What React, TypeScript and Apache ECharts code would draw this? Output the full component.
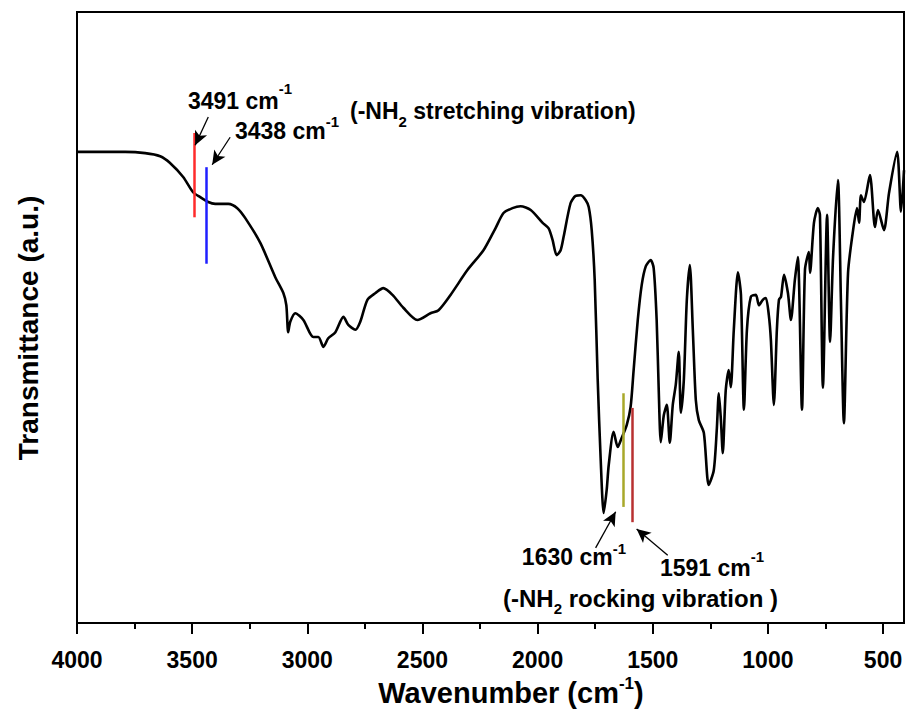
import React, { useEffect, useRef } from "react";
import * as echarts from "echarts";

// Wavenumber (cm-1) and transmittance (a.u., 0-100 scale)
const wavenumber = [
  4000, 3900, 3791, 3704, 3639, 3596, 3539, 3496, 3465, 3430, 3400, 3343, 3304, 3270, 3204, 3139,
  3104, 3091, 3083, 3074, 3052, 3017, 2974, 2952, 2930, 2909, 2878, 2843, 2822, 2791, 2770, 2739,
  2704, 2670, 2630, 2583, 2522, 2465, 2430, 2378, 2304, 2235, 2183, 2148, 2109, 2074, 2030, 1978,
  1952, 1935, 1917, 1900, 1887, 1857, 1835, 1813, 1791, 1778, 1765, 1752, 1739, 1726, 1713, 1700,
  1691, 1670, 1652, 1635, 1613, 1596, 1583, 1565, 1548, 1530, 1509, 1496, 1483, 1474, 1465, 1452,
  1439, 1426, 1413, 1400, 1387, 1378, 1365, 1352, 1339, 1326, 1313, 1300, 1278, 1257, 1235, 1222,
  1213, 1204, 1196, 1183, 1170, 1161, 1148, 1130, 1117, 1104, 1091, 1074, 1052, 1039, 1022, 1009,
  996, 987, 974, 961, 952, 943, 930, 913, 900, 883, 870, 852, 839, 822, 817, 800,
  783, 774, 761, 743, 730, 717, 696, 683, 670, 652, 630, 613, 604, 596, 583, 557,
  535, 522, 496, 474, 439, 422, 409,
];
const transmittance = [
  77.1, 77.1, 77.1, 76.9, 76.4, 75.3, 73.0, 70.5, 69.7, 68.9, 68.6, 68.6, 67.9, 66.3, 62.2, 56.6,
  54.0, 52.0, 47.6, 49.3, 50.7, 49.6, 46.8, 46.8, 45.2, 46.6, 47.6, 50.1, 48.8, 48.0, 49.3, 52.9,
  54.0, 54.8, 53.7, 51.6, 49.6, 50.7, 51.2, 53.7, 57.8, 61.0, 64.6, 67.1, 67.9, 68.2, 67.6, 65.5,
  64.6, 62.7, 60.2, 61.0, 63.2, 68.7, 69.9, 70.0, 69.2, 68.1, 64.3, 56.1, 39.8, 26.7, 18.0, 21.8,
  25.9, 31.3, 28.8, 30.3, 32.4, 35.4, 41.4, 49.6, 55.3, 58.4, 59.4, 58.1, 49.6, 38.1, 29.6, 34.0,
  35.7, 29.5, 35.7, 39.0, 44.4, 34.4, 39.8, 52.9, 58.6, 48.0, 36.5, 33.2, 31.1, 22.6, 25.0, 31.6,
  37.6, 33.2, 27.8, 38.1, 41.4, 38.6, 48.0, 57.4, 53.7, 34.9, 48.0, 53.4, 53.7, 52.0, 52.9, 53.2,
  50.4, 46.3, 35.7, 48.0, 52.9, 53.4, 57.0, 54.0, 49.6, 56.1, 59.9, 34.9, 57.8, 60.7, 57.3, 65.5,
  67.9, 66.8, 38.5, 66.8, 46.0, 59.9, 72.5, 52.9, 32.7, 57.3, 64.3, 67.9, 65.5, 70.0, 68.9, 73.3,
  64.8, 67.6, 64.3, 70.4, 77.1, 67.3, 74.1,
];

const majorTicks = [4000, 3500, 3000, 2500, 2000, 1500, 1000, 500];
const minorTicks = [3750, 3250, 2750, 2250, 1750, 1250, 750];
const markedPeaks = [3491, 3438, 1630, 1591];

const FONT = '"Liberation Sans", Arial, Helvetica, sans-serif';

let measureCtx: CanvasRenderingContext2D | null = null;
function measure(text: string, size: number) {
  if (!measureCtx) measureCtx = document.createElement("canvas").getContext("2d");
  if (!measureCtx) return text.length * size * 0.55;
  measureCtx.font = `bold ${size}px ${FONT}`;
  return measureCtx.measureText(text).width;
}

type Part = { t: string; size: number; dy?: number };

// builds text pieces laid out left to right (super/subscripts shifted by dy)
function label(x: number, y: number, parts: Part[], align: "left" | "right" | "center" = "left") {
  const widths = parts.map((p) => measure(p.t, p.size));
  const total = widths.reduce((a, b) => a + b, 0);
  let cx = align === "left" ? x : align === "right" ? x - total : x - total / 2;
  return parts.map((p, i) => {
    const el = {
      type: "text",
      x: cx,
      y: y + (p.dy || 0),
      z: 100,
      style: {
        text: p.t,
        font: `bold ${p.size}px ${FONT}`,
        fill: "#000",
        align: "left",
        verticalAlign: "middle",
        textAlign: "left",
        textVerticalAlign: "middle",
      },
    };
    cx += widths[i];
    return el;
  });
}

export default function App() {
  const ref = useRef<HTMLDivElement>(null);

  useEffect(() => {
    document.body.style.margin = "0";
    if (!ref.current) return;
    const chart = echarts.init(ref.current, undefined, { renderer: "svg" });

    const data = wavenumber.map((w, i) => [w, transmittance[i]]);
    const [p3491, p3438, p1630, p1591] = markedPeaks;

    const vline = (x: number, y0: number, y1: number, color: string) => [
      { coord: [x, y0], symbol: "none", lineStyle: { color, width: 2.5, type: "solid" } },
      { coord: [x, y1], symbol: "none" },
    ];
    const arrow = (x0: number, y0: number, x1: number, y1: number) => [
      { coord: [x0, y0], symbol: "none", lineStyle: { color: "#000", width: 1.3, type: "solid" } },
      { coord: [x1, y1], symbol: "arrow", symbolSize: [10, 14] },
    ];

    const graphics: any[] = [
      ...label(188, 101, [
        { t: "3491 cm", size: 23 },
        { t: "-1", size: 15, dy: -13 },
      ]),
      ...label(235, 131, [
        { t: "3438 cm", size: 23 },
        { t: "-1", size: 15, dy: -10 },
      ]),
      ...label(350, 111, [
        { t: "(-NH", size: 23 },
        { t: "2", size: 15, dy: 10 },
        { t: " stretching vibration)", size: 23 },
      ]),
      ...label(626, 557, [
        { t: "1630 cm", size: 23 },
        { t: "-1", size: 15, dy: -9 },
      ], "right"),
      ...label(660, 568, [
        { t: "1591 cm", size: 23 },
        { t: "-1", size: 15, dy: -12 },
      ]),
      ...label(503, 598, [
        { t: "(-NH", size: 24 },
        { t: "2", size: 15, dy: 10 },
        { t: " rocking vibration )", size: 24 },
      ]),
      ...label(511, 693, [
        { t: "Wavenumber (cm", size: 29 },
        { t: "-1", size: 17, dy: -10 },
        { t: ")", size: 29 },
      ], "center"),
      {
        type: "text",
        x: 28,
        y: 328,
        rotation: Math.PI / 2,
        z: 100,
        style: {
          text: "Transmittance (a.u.)",
          font: `bold 28px ${FONT}`,
          fill: "#000",
          align: "center",
          verticalAlign: "middle",
          textAlign: "center",
          textVerticalAlign: "middle",
        },
      },
    ];

    chart.setOption({
      animation: false,
      backgroundColor: "#fff",
      grid: {
        left: 77,
        right: 2,
        top: 12,
        bottom: 88,
        show: true,
        borderColor: "#000",
        borderWidth: 2,
        backgroundColor: "transparent",
      },
      xAxis: [
        {
          type: "value",
          min: 409,
          max: 4000,
          inverse: true,
          position: "bottom",
          axisLine: { show: true, onZero: false, lineStyle: { color: "#000", width: 2 } },
          axisTick: { show: true, customValues: majorTicks, length: 11, lineStyle: { color: "#000", width: 2 } },
          axisLabel: {
            customValues: majorTicks,
            formatter: (v: number) => String(v),
            fontSize: 23,
            fontWeight: "bold",
            fontFamily: FONT,
            color: "#000",
            margin: 25,
          },
          splitLine: { show: false },
        },
        {
          type: "value",
          min: 409,
          max: 4000,
          inverse: true,
          position: "bottom",
          axisLine: { show: false },
          axisTick: { show: true, customValues: minorTicks, length: 6, lineStyle: { color: "#000", width: 2 } },
          axisLabel: { show: false },
          splitLine: { show: false },
        },
      ],
      yAxis: {
        type: "value",
        min: 0,
        max: 100,
        axisLine: { show: false },
        axisTick: { show: false },
        axisLabel: { show: false },
        splitLine: { show: false },
      },
      series: [
        {
          type: "line",
          data,
          showSymbol: false,
          smooth: 0.25,
          lineStyle: { color: "#000", width: 2.6 },
          z: 3,
          markLine: {
            silent: true,
            animation: false,
            label: { show: false },
            emphasis: { disabled: true },
            data: [
              vline(p3491, 66.4, 80.2, "#ff2b2b"),
              vline(p3438, 58.8, 74.6, "#1f1fff"),
              vline(p1630, 19.0, 37.6, "#a8a82a"),
              vline(p1591, 16.5, 35.2, "#b83030"),
              arrow(3430, 82.8, 3487, 78.2),
              arrow(3335, 79.5, 3413, 75.0),
              arrow(1748, 12.3, 1661, 18.2),
              arrow(1435, 11.1, 1570, 15.4),
            ],
          },
        },
      ],
      graphic: graphics,
    });

    return () => chart.dispose();
  }, []);

  return <div ref={ref} style={{ width: 906, height: 711 }} />;
}
